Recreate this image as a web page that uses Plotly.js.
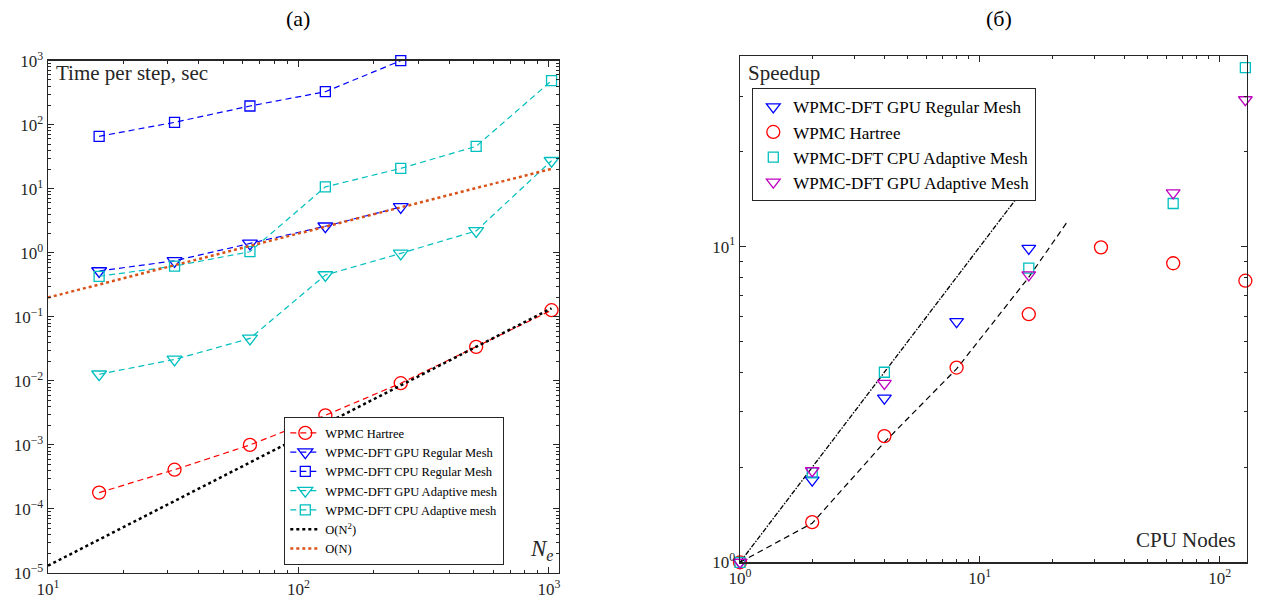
<!DOCTYPE html>
<html><head><meta charset="utf-8">
<script src="https://cdn.plot.ly/plotly-3.0.1.min.js"></script>
<style>html,body{margin:0;padding:0;background:#fff}#chart{width:1262px;height:600px}</style>
</head><body><div id="chart"></div>
<script>
// ---------- Panel (a): time per step vs number of electrons ----------
const nElectrons = [16, 32, 64, 128, 256, 512, 1024];
const nElectronsRegular = [16, 32, 64, 128, 256];
const timeHartree = [1.8e-4, 4.1e-4, 1.0e-3, 2.9e-3, 9.2e-3, 0.034, 0.127];
const timeGpuRegular = [0.52, 0.75, 1.4, 2.6, 5.2];
const timeCpuRegular = [66, 109, 196, 328, 1000];
const timeGpuAdaptive = [0.0127, 0.0216, 0.046, 0.45, 0.98, 2.2, 27.4];
const timeCpuAdaptive = [0.43, 0.62, 1.04, 10.7, 20.8, 46, 487];
const refN = [10, 1024];
const refQuadratic = [1.3e-5, 0.136];
const refLinear = [0.2, 20.5];

// ---------- Panel (б): speedup vs CPU nodes ----------
const nodesAll = [1, 2, 4, 8, 16, 32, 64, 128];
const nodesGpuRegular = [1, 2, 4, 8, 16];
const nodesAdaptive = [1, 2, 4, 16, 64, 128];
const speedGpuRegular = [1, 1.82, 3.31, 5.79, 9.87];
const speedHartree = [1, 1.34, 2.51, 4.14, 6.11, 9.95, 8.86, 7.8];
const speedCpuAdaptive = [1, 1.92, 4.0, 8.55, 13.7, 36.9];
const speedGpuAdaptive = [1, 1.95, 3.69, 8.14, 14.8, 29.2];
const idealNodes = [1, 14];
const idealSpeed = [1, 14];
const fitNodes = [1, 2, 4, 8, 16, 23];
const fitSpeed = [1, 1.33, 2.4, 4.1, 8.0, 11.9];

// ---------- Tick labels ----------
const leftXTickVals = [10, 100, 1000];
const leftXTickText = ['10<sup>1</sup>', '10<sup>2</sup>', '10<sup>3</sup>'];
const leftYTickVals = [1e-5, 1e-4, 1e-3, 1e-2, 1e-1, 1, 10, 100, 1000];
const leftYTickText = ['10<sup>−5</sup>', '10<sup>−4</sup>', '10<sup>−3</sup>', '10<sup>−2</sup>', '10<sup>−1</sup>', '10<sup>0</sup>', '10<sup>1</sup>', '10<sup>2</sup>', '10<sup>3</sup>'];
const rightXTickVals = [1, 10, 100];
const rightXTickText = ['10<sup>0</sup>', '10<sup>1</sup>', '10<sup>2</sup>'];
const rightYTickVals = [1, 10];
const rightYTickText = ['10<sup>0</sup>', '10<sup>1</sup>'];

const BLUE = '#0000ff', RED = '#ff0000', CYAN = '#00bfbf', MAG = '#bf00bf', ORANGE = '#d95319', AX = '#262626';
const FONT = 'Liberation Serif';
const DASH = '6px,4px';

function lm(name, x, y, color, symbol, size) {
  return {
    type: 'scatter', mode: 'lines+markers', name: name, x: x, y: y,
    xaxis: 'x', yaxis: 'y', legend: 'legend', cliponaxis: false,
    line: {color: color, width: 1.2, dash: DASH},
    marker: {symbol: symbol, size: size, color: color, line: {color: color, width: 1.3}}
  };
}
function mk(name, x, y, color, symbol, size) {
  return {
    type: 'scatter', mode: 'markers', name: name, x: x, y: y,
    xaxis: 'x2', yaxis: 'y2', legend: 'legend2', cliponaxis: false,
    marker: {symbol: symbol, size: size, color: color, line: {color: color, width: 1.3}}
  };
}

const traces = [
  lm('WPMC Hartree', nElectrons, timeHartree, RED, 'circle-open', 13),
  lm('WPMC-DFT GPU Regular Mesh', nElectronsRegular, timeGpuRegular, BLUE, 'triangle-down-open', 13),
  lm('WPMC-DFT CPU Regular Mesh', nElectronsRegular, timeCpuRegular, BLUE, 'square-open', 10),
  lm('WPMC-DFT GPU Adaptive mesh', nElectrons, timeGpuAdaptive, CYAN, 'triangle-down-open', 13),
  lm('WPMC-DFT CPU Adaptive mesh', nElectrons, timeCpuAdaptive, CYAN, 'square-open', 10),
  {type: 'scatter', mode: 'lines', name: 'O(N<sup>2</sup>)', x: refN, y: refQuadratic, xaxis: 'x', yaxis: 'y', legend: 'legend',
   line: {color: '#000000', width: 2.5, dash: 'dot'}},
  {type: 'scatter', mode: 'lines', name: 'O(N)', x: refN, y: refLinear, xaxis: 'x', yaxis: 'y', legend: 'legend',
   line: {color: ORANGE, width: 2.5, dash: 'dot'}},

  {type: 'scatter', mode: 'lines', x: idealNodes, y: idealSpeed, xaxis: 'x2', yaxis: 'y2', showlegend: false,
   line: {color: '#000000', width: 1.3, dash: '5px,1.5px,1.5px,1.5px'}},
  {type: 'scatter', mode: 'lines', x: fitNodes, y: fitSpeed, xaxis: 'x2', yaxis: 'y2', showlegend: false,
   line: {color: '#000000', width: 1.2, dash: DASH}},
  mk('WPMC-DFT GPU Regular Mesh', nodesGpuRegular, speedGpuRegular, BLUE, 'triangle-down-open', 12),
  mk('WPMC Hartree', nodesAll, speedHartree, RED, 'circle-open', 13),
  mk('WPMC-DFT CPU Adaptive Mesh', nodesAdaptive, speedCpuAdaptive, CYAN, 'square-open', 10),
  mk('WPMC-DFT GPU Adaptive Mesh', nodesAdaptive, speedGpuAdaptive, MAG, 'triangle-down-open', 12)
];

function axis(domain, range, tv, tt, anchor) {
  return {
    type: 'log', domain: domain, range: range, anchor: anchor,
    tickmode: 'array', tickvals: tv, ticktext: tt,
    ticks: 'inside', ticklen: 6, tickwidth: 1, tickcolor: AX,
    showline: true, linecolor: AX, linewidth: 1.3, mirror: 'allticks',
    showgrid: false, zeroline: false,
    tickfont: {family: FONT, size: 17, color: AX},
    minor: {ticks: 'inside', ticklen: 3, tickwidth: 1, tickcolor: AX, dtick: 'D1', showgrid: false}
  };
}

const W = 1262, H = 600;
const layout = {
  width: W, height: H, margin: {l: 0, r: 0, t: 0, b: 0},
  paper_bgcolor: '#fff', plot_bgcolor: '#fff',
  font: {family: FONT, color: AX},
  showlegend: true,
  xaxis: axis([48 / W, 559 / W], [1, 3.04], leftXTickVals, leftXTickText, 'y'),
  yaxis: axis([1 - 573 / H, 1 - 60.7 / H], [-5, 3], leftYTickVals, leftYTickText, 'x'),
  xaxis2: axis([740 / W, 1247 / W], [0, 2.114], rightXTickVals, rightXTickText, 'y2'),
  yaxis2: axis([1 - 562.3 / H, 1 - 56 / H], [0, 1.604], rightYTickVals, rightYTickText, 'x2'),
  legend: {x: 284 / W, xanchor: 'left', y: 1 - 565 / H, yanchor: 'bottom',
    bgcolor: '#fff', bordercolor: AX, borderwidth: 1.3,
    font: {family: FONT, size: 12.5, color: '#000'}, itemwidth: 30, tracegroupgap: 0},
  legend2: {x: 752 / W, xanchor: 'left', y: 1 - 88 / H, yanchor: 'top',
    bgcolor: '#fff', bordercolor: AX, borderwidth: 1.3,
    font: {family: FONT, size: 17, color: '#000'}, itemwidth: 30, tracegroupgap: 0},
  annotations: [
    {text: '(a)', xref: 'paper', yref: 'paper', x: 298 / W, y: 1 - 18 / H, xanchor: 'center', yanchor: 'middle', showarrow: false,
     font: {family: FONT, size: 22, color: '#000'}},
    {text: '(б)', xref: 'paper', yref: 'paper', x: 999 / W, y: 1 - 18 / H, xanchor: 'center', yanchor: 'middle', showarrow: false,
     font: {family: FONT, size: 22, color: '#000'}},
    {text: 'Time per step, sec', xref: 'paper', yref: 'paper', x: 54 / W, y: 1 - 73 / H, xanchor: 'left', yanchor: 'middle', showarrow: false,
     font: {family: FONT, size: 21, color: AX}},
    {text: '<i>N</i><sub><i>e</i></sub>', xref: 'paper', yref: 'paper', x: 556 / W, y: 1 - 550 / H, xanchor: 'right', yanchor: 'middle', showarrow: false,
     font: {family: FONT, size: 23, color: AX}},
    {text: 'Speedup', xref: 'paper', yref: 'paper', x: 746 / W, y: 1 - 73 / H, xanchor: 'left', yanchor: 'middle', showarrow: false,
     font: {family: FONT, size: 21, color: AX}},
    {text: 'CPU Nodes', xref: 'paper', yref: 'paper', x: 1238 / W, y: 1 - 540 / H, xanchor: 'right', yanchor: 'middle', showarrow: false,
     font: {family: FONT, size: 21, color: AX}}
  ]
};

Plotly.newPlot('chart', traces, layout, {staticPlot: true, displayModeBar: false});
</script>
</body></html>
